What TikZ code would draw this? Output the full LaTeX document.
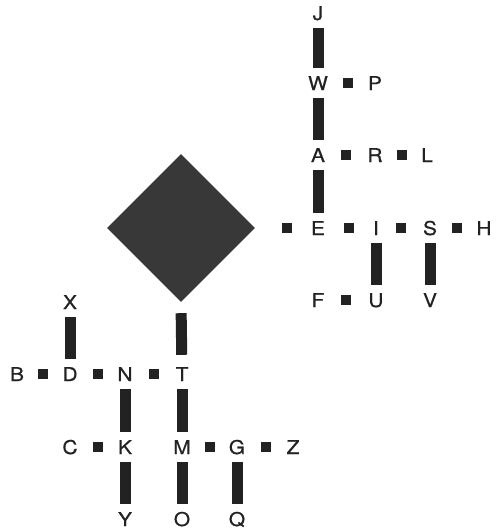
\documentclass[tikz,border=0pt]{standalone}
\usepackage{fontspec}
\setmainfont[FakeStretch=1.1,FakeBold=0.6]{TeX Gyre Heros}
\usetikzlibrary{shapes.geometric}
\definecolor{ink}{RGB}{34,34,34}
\definecolor{stone}{RGB}{56,56,56}
\tikzset{
  letter/.style={inner sep=0pt, text height=14pt, text depth=0pt, text=ink, font=\fontsize{19}{19}\selectfont},
  bar/.style={draw=ink, line width=11pt, line cap=butt, shorten <=8pt, shorten >=8pt},
  dotsq/.style={fill=ink, minimum size=10pt, inner sep=0pt, rectangle},
}
\begin{document}
\begin{tikzpicture}[x=1pt,y=-1pt]
\useasboundingbox (0,0) rectangle (498,530);
% start diamond
\node[diamond, fill=stone, minimum width=148pt, minimum height=148pt, inner sep=0pt] (start) at (181,228) {};
% right subtree
\node[letter] (J) at (318,13) {J};
\node[letter] (W) at (318,83) {W};
\node[letter] (P) at (375,83) {P};
\node[letter] (A) at (318,155) {A};
\node[letter] (R) at (375,155) {R};
\node[letter] (L) at (427,155) {L};
\node[letter] (E) at (318,228) {E};
\node[letter] (I) at (376,228) {I};
\node[letter] (S) at (430,228) {S};
\node[letter] (H) at (484,228) {H};
\node[letter] (F) at (318,300) {F};
\node[letter] (U) at (376,300) {U};
\node[letter] (V) at (430,300) {V};
% left subtree
\node[letter] (X) at (70,302) {X};
\node[letter] (B) at (17,374) {B};
\node[letter] (D) at (70,374) {D};
\node[letter] (N) at (125,374) {N};
\node[letter] (T) at (182,374) {T};
\node[letter] (C) at (70,447) {C};
\node[letter] (K) at (125,447) {K};
\node[letter] (M) at (182,447) {M};
\node[letter] (G) at (237,447) {G};
\node[letter] (Z) at (293,447) {Z};
\node[letter] (Y) at (125,519) {Y};
\node[letter] (O) at (182,519) {O};
\node[letter] (Q) at (237,519) {Q};
% dashes
\draw[bar] (J) -- (W);
\draw[bar] (W) -- (A);
\draw[bar] (A) -- (E);
\draw[bar] (I) -- (U);
\draw[bar] (S) -- (V);
\draw[bar] (X) -- (D);
\draw[bar, shorten <=11pt, shorten >=12pt] (start.south) -- (T);
\draw[bar] (N) -- (K);
\draw[bar] (T) -- (M);
\draw[bar] (K) -- (Y);
\draw[bar] (M) -- (O);
\draw[bar] (G) -- (Q);
% dots
\path (start.east) -- node[dotsq, pos=0.58] {} (E);
\path (W) -- node[dotsq] {} (P);
\path (A) -- node[dotsq] {} (R);
\path (R) -- node[dotsq] {} (L);
\path (E) -- node[dotsq] {} (I);
\path (I) -- node[dotsq] {} (S);
\path (S) -- node[dotsq] {} (H);
\path (F) -- node[dotsq] {} (U);
\path (B) -- node[dotsq] {} (D);
\path (D) -- node[dotsq] {} (N);
\path (N) -- node[dotsq] {} (T);
\path (C) -- node[dotsq] {} (K);
\path (M) -- node[dotsq] {} (G);
\path (G) -- node[dotsq] {} (Z);
\end{tikzpicture}
\end{document}
